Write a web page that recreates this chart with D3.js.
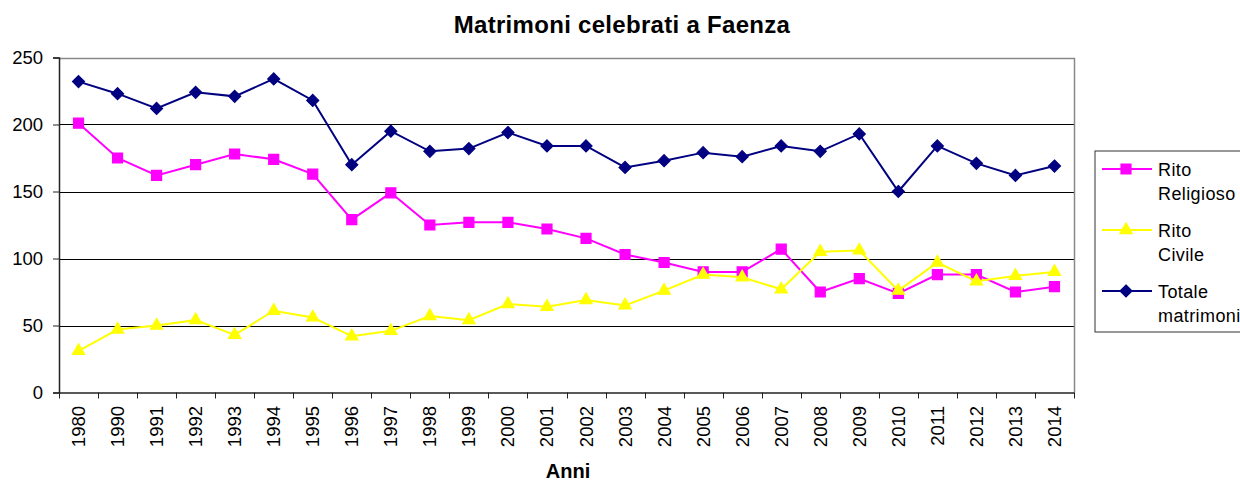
<!DOCTYPE html>
<html><head><meta charset="utf-8">
<script src="https://cdn.jsdelivr.net/npm/d3@7/dist/d3.min.js"></script>
<style>body{margin:0;background:#fff}svg{display:block;font-family:"Liberation Sans",Arial,sans-serif}</style>
</head><body><svg id="c" width="1240" height="481"></svg>
<script>
const years = ["1980","1990","1991","1992","1993","1994","1995","1996","1997","1998","1999","2000","2001","2002","2003","2004","2005","2006","2007","2008","2009","2010","2011","2012","2013","2014"];
const religioso = [201,175,162,170,178,174,163,129,149,125,127,127,122,115,103,97,90,90,107,75,85,74,88,88,75,79];
const civile = [31,47,50,54,43,61,56,42,46,57,54,66,64,69,65,76,88,86,77,105,106,76,97,83,87,90];
const totale = [232,223,212,224,221,234,218,170,195,180,182,194,184,184,168,173,179,176,184,180,193,150,184,171,162,169];
const yTicks = [0,50,100,150,200,250];
const title = "Matrimoni celebrati a Faenza";
const xTitle = "Anni";

const svg = d3.select("#c");
const L=59,R=1074,T=57.5,B=392.5;
const x = d3.scaleBand().domain(years).range([L,R]);
const y = d3.scaleLinear().domain([0,250]).range([B,T]);
const cx = d => x(d)+x.bandwidth()/2;

// gridlines
svg.append("g").selectAll("line").data(yTicks.filter(t=>t>0&&t<250)).join("line")
  .attr("x1",L).attr("x2",R).attr("y1",d=>Math.round(y(d))+0.5).attr("y2",d=>Math.round(y(d))+0.5)
  .attr("stroke","#000").attr("stroke-width",1);
// plot border top/right
svg.append("path").attr("d",`M${L},${Math.round(T)+0.5}H${R+0.5}V${B}`).attr("fill","none").attr("stroke","#888").attr("stroke-width",1.5);

// y axis
const ya = d3.axisLeft(y).tickValues(yTicks).tickSize(6).tickPadding(10);
const gy = svg.append("g").attr("transform",`translate(${L},0)`).call(ya);
gy.select(".domain").attr("stroke","#222").attr("stroke-width",1.5);
gy.selectAll(".tick line").attr("stroke","#222");
gy.selectAll("text").attr("font-size",18.5).attr("fill","#000").attr("font-family","Liberation Sans, Arial, sans-serif");

// x axis
const xa = d3.axisBottom(x).tickSize(0).tickFormat("");
const gx = svg.append("g").attr("transform",`translate(0,${B})`).call(xa);
gx.select(".domain").attr("stroke","#222").attr("stroke-width",1.5);
const bounds = years.map(d=>x(d)).concat([R]);
svg.append("g").selectAll("line").data(bounds).join("line")
  .attr("x1",d=>Math.round(d)+0.5).attr("x2",d=>Math.round(d)+0.5).attr("y1",B).attr("y2",B+6).attr("stroke","#222");
svg.append("g").selectAll("text").data(years).join("text")
  .attr("transform",d=>`translate(${cx(d)+6.5},406) rotate(-90)`)
  .attr("text-anchor","end").attr("font-size",18.5).attr("fill","#000").text(d=>d);

// title
svg.append("text").attr("x",622).attr("y",33).attr("text-anchor","middle").attr("font-size",24).attr("font-weight","bold").attr("letter-spacing",0.3).text(title);
svg.append("text").attr("x",568).attr("y",478).attr("text-anchor","middle").attr("font-size",20).attr("font-weight","bold").text(xTitle);

const diamond = {draw(ctx,size){const r=Math.sqrt(size)/Math.SQRT2; ctx.moveTo(0,-r);ctx.lineTo(r,0);ctx.lineTo(0,r);ctx.lineTo(-r,0);ctx.closePath();}};
const line = d3.line().x((d,i)=>cx(years[i])).y(d=>y(d));
const series = [
  {name:["Rito","Religioso"], data:religioso, color:"#ff00ff", sym:d3.symbolSquare, size:100},
  {name:["Rito","Civile"], data:civile, color:"#ffff00", sym:d3.symbolTriangle, size:66},
  {name:["Totale","matrimoni"], data:totale, color:"#000080", sym:diamond, size:72}
];
series.forEach(s=>{
  const g = svg.append("g");
  g.append("path").attr("d",line(s.data)).attr("fill","none").attr("stroke",s.color).attr("stroke-width",2);
  g.selectAll("path.m").data(s.data).join("path").attr("class","m")
    .attr("transform",(d,i)=>`translate(${cx(years[i])},${y(d)})`)
    .attr("d",d3.symbol(s.sym,s.size)()).attr("fill",s.color).attr("stroke",s.color).attr("stroke-width",1.2);
});

// legend
const lg = svg.append("g");
lg.append("rect").attr("x",1095).attr("y",151).attr("width",160).attr("height",181).attr("fill","#fff").attr("stroke","#333");
const ly=[169,230,291];
series.forEach((s,i)=>{
  lg.append("line").attr("x1",1102).attr("x2",1152).attr("y1",ly[i]).attr("y2",ly[i]).attr("stroke",s.color).attr("stroke-width",2);
  lg.append("path").attr("transform",`translate(1126,${ly[i]})`).attr("d",d3.symbol(s.sym,s.size)()).attr("fill",s.color).attr("stroke",s.color).attr("stroke-width",1.2);
  lg.append("text").attr("x",1158).attr("y",ly[i]+6.5).attr("font-size",18).attr("letter-spacing",0.4).text(s.name[0]);
  lg.append("text").attr("x",1158).attr("y",ly[i]+31).attr("font-size",18).attr("letter-spacing",0.4).text(s.name[1]);
});
</script></body></html>
